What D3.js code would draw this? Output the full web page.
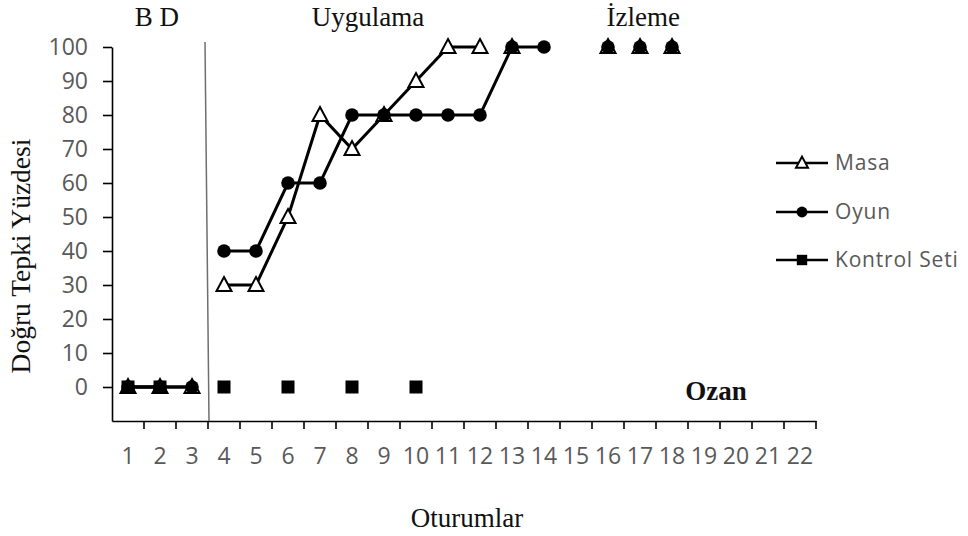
<!DOCTYPE html>
<html>
<head>
<meta charset="utf-8">
<script src="https://cdn.jsdelivr.net/npm/d3@7/dist/d3.min.js"></script>
<style>
  html, body { margin: 0; padding: 0; background: #fff; }
  svg { display: block; }
</style>
</head>
<body>
<svg id="chart" width="968" height="536"></svg>
<script>
// ---- data ----
const sessions = d3.range(1, 23);             // x tick labels 1..22
const yTicks = d3.range(0, 101, 10);          // y tick labels
const seriesNames = ["Masa", "Oyun", "Kontrol Seti"];
const masa    = [0,0,0,30,30,50,80,70,80,90,100,100,100,null,null,100,100,100,null,null,null,null];
const oyun    = [0,0,0,40,40,60,60,80,80,80,80,80,100,100,null,100,100,100,null,null,null,null];
const kontrol = [0,0,null,0,null,0,null,0,null,0,null,null,null,null,null,null,null,null,null,null,null,null];
// connected runs of sessions (start, end)
const masaRuns    = [[1,3],[4,12]];
const oyunRuns    = [[1,3],[4,14]];
const kontrolRuns = [[1,2]];
const phaseLabels = [
  {text: "B D", at: 1.9},
  {text: "Uygulama", at: 8.5},
  {text: "İzleme", at: 17.1}
];
const phaseBoundary = 4; // line before session 4

// ---- layout ----
const svg = d3.select("#chart");
const W = 968, H = 536;
svg.append("rect").attr("width", W).attr("height", H).attr("fill", "#fff");

const x = d3.scaleBand().domain(sessions).range([112, 816]).padding(0);
const xl = d3.scaleLinear().domain([0.5, 22.5]).range(x.range()); // continuous session position
const y = d3.scaleLinear().domain([-10, 100]).range([421, 47]);
const cx = s => x(s) + x.bandwidth() / 2;

const serif = "'Liberation Serif','Times New Roman',serif";
const sans = "'Open Sans','Noto Sans',sans-serif";
const tickColor = "#595959";

// y axis
const yAxis = svg.append("g")
  .attr("transform", `translate(${x.range()[0]},0)`)
  .call(d3.axisLeft(y).tickValues(yTicks).tickSize(9).tickSizeOuter(0).tickPadding(15));
yAxis.select(".domain").attr("stroke", "#000").attr("stroke-width", 1.6);
yAxis.selectAll(".tick line").attr("stroke", "#000").attr("stroke-width", 1.6);
yAxis.selectAll(".tick text").attr("font-family", sans).attr("font-size", 23).attr("fill", tickColor);

// x axis
const xAxis = svg.append("g")
  .attr("transform", `translate(0,${y(-10)})`)
  .call(d3.axisBottom(x).tickSize(0).tickSizeOuter(0).tickPadding(27));
xAxis.select(".domain").attr("stroke", "#000").attr("stroke-width", 1.6);
xAxis.selectAll(".tick text").attr("font-family", sans).attr("font-size", 23).attr("fill", tickColor);
xAxis.selectAll(".bt").data(sessions).enter().append("line")
  .attr("x1", d => x(d) + x.bandwidth()).attr("x2", d => x(d) + x.bandwidth())
  .attr("y1", 0).attr("y2", 8)
  .attr("stroke", "#000").attr("stroke-width", 1.6);

// phase line
svg.append("line")
  .attr("x1", x(phaseBoundary) - 3).attr("x2", x(phaseBoundary) + 1)
  .attr("y1", y(101.5)).attr("y2", y(-10))
  .attr("stroke", "#6e6e6e").attr("stroke-width", 1.5);

// phase labels
phaseLabels.forEach(p => {
  svg.append("text").attr("x", xl(p.at)).attr("y", 26)
    .attr("text-anchor", "middle").attr("font-family", serif).attr("font-size", 27)
    .attr("fill", "#111").text(p.text);
});

// series lines
const lineGen = d3.line().x(d => cx(d.s)).y(d => y(d.v));
function drawRuns(values, runs) {
  runs.forEach(([a, b]) => {
    const pts = sessions.filter(s => s >= a && s <= b && values[s - 1] != null)
      .map(s => ({s, v: values[s - 1]}));
    svg.append("path").attr("d", lineGen(pts))
      .attr("fill", "none").attr("stroke", "#000").attr("stroke-width", 3);
  });
}
drawRuns(masa, masaRuns);
drawRuns(oyun, oyunRuns);
drawRuns(kontrol, kontrolRuns);

// markers
function triangle(g, px, py, k = 1) {
  g.append("path")
    .attr("d", `M${px},${py - 8 * k} L${px + 7.5 * k},${py + 6 * k} L${px - 7.5 * k},${py + 6 * k} Z`)
    .attr("fill", "#fff").attr("stroke", "#000").attr("stroke-width", 2).attr("stroke-linejoin", "miter");
}
function circle(g, px, py, k = 1) {
  g.append("circle").attr("cx", px).attr("cy", py).attr("r", 6.8 * k).attr("fill", "#000");
}
function square(g, px, py, k = 1) {
  g.append("rect").attr("x", px - 6.5 * k).attr("y", py - 6.5 * k)
    .attr("width", 13 * k).attr("height", 13 * k).attr("fill", "#000");
}
const markerFns = [triangle, circle, square];
const allSeries = [masa, oyun, kontrol];
const mg = svg.append("g");
allSeries.forEach((vals, i) => {
  sessions.forEach(s => {
    const v = vals[s - 1];
    if (v != null) markerFns[i](mg, cx(s), y(v));
  });
});

// legend
const legY = [163, 212, 260];
seriesNames.forEach((name, i) => {
  svg.append("line").attr("x1", 776).attr("x2", 828).attr("y1", legY[i]).attr("y2", legY[i])
    .attr("stroke", "#000").attr("stroke-width", 2.6);
  markerFns[i](svg, 802, legY[i], 0.8);
  svg.append("text").attr("x", 835).attr("y", legY[i] + 7)
    .attr("font-family", sans).attr("font-size", 21).attr("letter-spacing", 0.8)
    .attr("fill", tickColor).text(name);
});

// student name
svg.append("text").attr("x", 716).attr("y", 400).attr("text-anchor", "middle")
  .attr("font-family", serif).attr("font-weight", "bold").attr("font-size", 27)
  .attr("fill", "#111").text("Ozan");

// axis titles
svg.append("text").attr("x", 467).attr("y", 527).attr("text-anchor", "middle")
  .attr("font-family", serif).attr("font-size", 27).attr("fill", "#111").text("Oturumlar");
svg.append("text").attr("transform", "translate(30,256) rotate(-90)").attr("text-anchor", "middle")
  .attr("font-family", serif).attr("font-size", 27.5).attr("fill", "#111").text("Doğru Tepki Yüzdesi");
</script>
</body>
</html>
